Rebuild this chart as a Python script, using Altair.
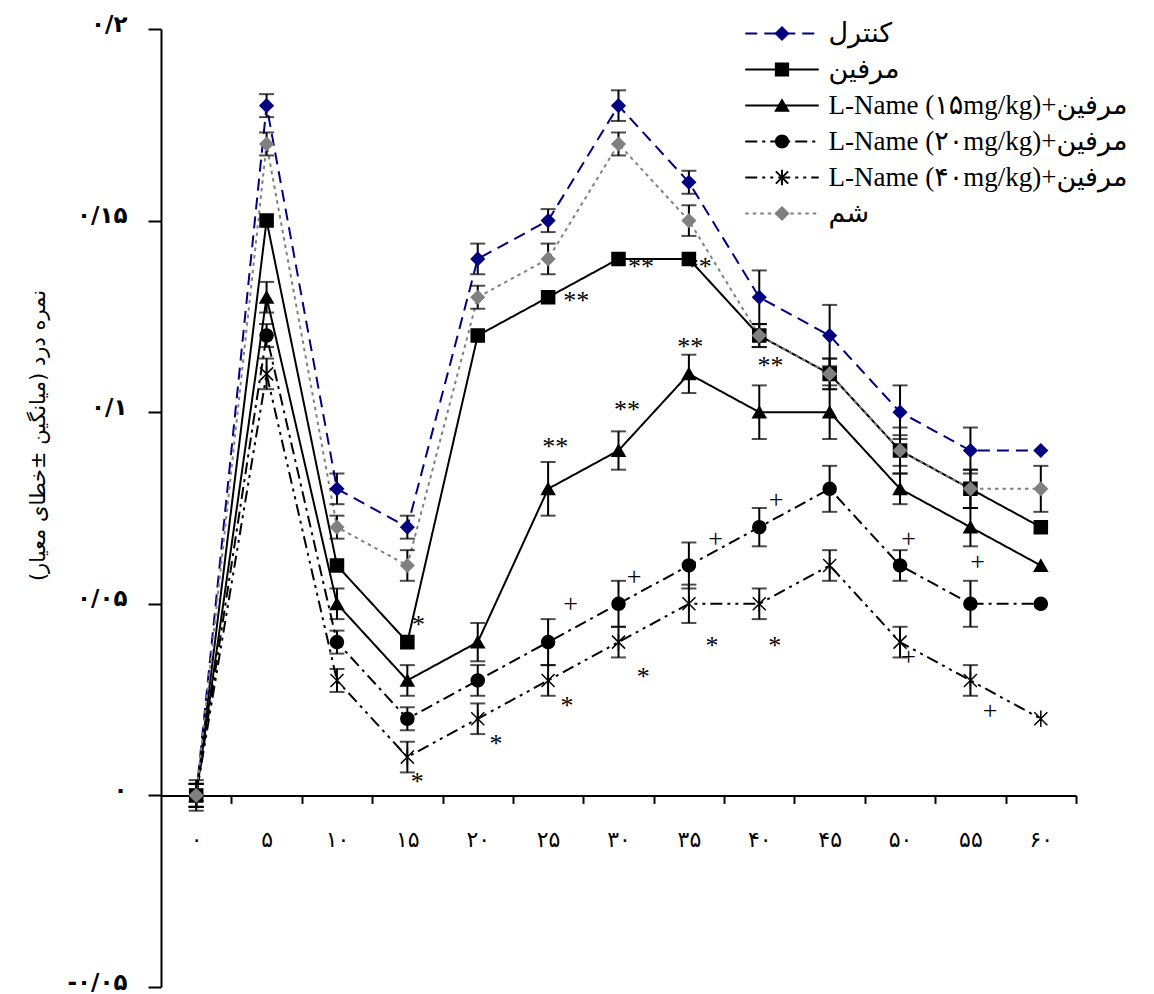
import json
import altair as alt
import pandas as pd

# ---------------- data ----------------
minutes = [0, 5, 10, 15, 20, 25, 30, 35, 40, 45, 50, 55, 60]
x_tick_labels = ["۰", "۵", "۱۰", "۱۵", "۲۰", "۲۵", "۳۰", "۳۵", "۴۰", "۴۵", "۵۰", "۵۵", "۶۰"]
y_tick_values = [-0.05, 0.0, 0.05, 0.1, 0.15, 0.2]
y_tick_labels = ["-۰/۰۵", "۰", "۰/۰۵", "۰/۱", "۰/۱۵", "۰/۲"]
y_title = "\u200fنمره درد (میانگین ±خطای معیار)\u200f"

series_names = [
    "کنترل",
    "مرفین",
    "L-Name (۱۵mg/kg)+مرفین",
    "L-Name (۲۰mg/kg)+مرفین",
    "L-Name (۴۰mg/kg)+مرفین",
    "شم",
]

control = [0, 0.18, 0.08, 0.07, 0.14, 0.15, 0.18, 0.16, 0.13, 0.12, 0.10, 0.09, 0.09]
control_err = [0.003, 0.003, 0.004, 0.003, 0.004, 0.003, 0.004, 0.003, 0.007, 0.008, 0.007, 0.006, 0]
morphine = [0, 0.15, 0.06, 0.04, 0.12, 0.13, 0.14, 0.14, 0.12, 0.11, 0.09, 0.08, 0.07]
morphine_err = [0.003, 0, 0, 0, 0, 0, 0, 0, 0.003, 0.004, 0.004, 0.005, 0]
lname15 = [0, 0.13, 0.05, 0.03, 0.04, 0.08, 0.09, 0.11, 0.10, 0.10, 0.08, 0.07, 0.06]
lname15_err = [0.003, 0.004, 0.004, 0.004, 0.005, 0.007, 0.005, 0.005, 0.007, 0.007, 0.004, 0.005, 0]
lname20 = [0, 0.12, 0.04, 0.02, 0.03, 0.04, 0.05, 0.06, 0.07, 0.08, 0.06, 0.05, 0.05]
lname20_err = [0.003, 0.003, 0.003, 0.003, 0.004, 0.006, 0.006, 0.006, 0.005, 0.006, 0.004, 0.006, 0]
lname40 = [0, 0.11, 0.03, 0.01, 0.02, 0.03, 0.04, 0.05, 0.05, 0.06, 0.04, 0.03, 0.02]
lname40_err = [0.004, 0.004, 0.003, 0.004, 0.004, 0.004, 0.004, 0.005, 0.004, 0.004, 0.004, 0.004, 0]
sham = [0, 0.17, 0.07, 0.06, 0.13, 0.14, 0.17, 0.15, 0.12, 0.11, 0.09, 0.08, 0.08]
sham_err = [0.003, 0.003, 0.003, 0.004, 0.003, 0.004, 0.003, 0.004, 0.003, 0.004, 0.006, 0.005, 0.006]

annot_x = [27.0, 31.6, 35.7, 30.6, 25.5, 35.1, 40.8,
           15.8, 15.7, 21.3, 26.35, 31.75, 36.65, 41.1,
           26.6, 31.1, 36.9, 41.2, 50.6, 50.6, 55.5, 56.4]
annot_y = [0.129, 0.138, 0.138, 0.1005, 0.091, 0.117, 0.112,
           0.0445, 0.0034, 0.0133, 0.0234, 0.031, 0.039, 0.039,
           0.050, 0.057, 0.067, 0.077, 0.067, 0.036, 0.061, 0.022]
annot_text = ["**"] * 7 + ["*"] * 7 + ["+"] * 8

# ---------------- styles ----------------
line_colors = ["#000080", "black", "black", "black", "black", "#808080"]
line_dashes = [[12, 7], [1, 0], [1, 0], [12, 5, 3, 5], [12, 5, 3, 5, 3, 5], [3.5, 4]]
line_widths = [2, 2, 2, 2, 2, 2.8]
marker_colors = ["#000080", "black", "black", "black", "black", "#808080"]
ASTERISK = "M-1,-1L1,1M-1,1L1,-1M0,-1.25L0,1.25"
marker_shapes = ["diamond", "square", "triangle-up", "circle", ASTERISK, "diamond"]
LEGEND_LINE = "M-6,0L6,0"

W, H = 915, 958
HALF = W / 13 / 2
LEG_X, LEG_Y = 607.5, -9
FONT_FA = "DejaVu Sans"
FONT_LEG = "Liberation Serif, DejaVu Sans"

rows = []
all_vals = [control, morphine, lname15, lname20, lname40, sham]
all_errs = [control_err, morphine_err, lname15_err, lname20_err, lname40_err, sham_err]
for name, vals, errs in zip(series_names, all_vals, all_errs):
    for m, v, e in zip(minutes, vals, errs):
        rows.append({"minute": m, "value": v, "err": e, "series": name, "series_m": name})
df = pd.DataFrame(rows)
df_err = df[df["err"] > 0].copy()
df_err["lo"] = df_err["value"] - df_err["err"]
df_err["hi"] = df_err["value"] + df_err["err"]
df_ann = pd.DataFrame({"ax": annot_x, "ay": annot_y, "t": annot_text})

x_label_expr = json.dumps(x_tick_labels, ensure_ascii=False) + "[round(datum.value / 5)]"
y_label_expr = json.dumps(y_tick_labels, ensure_ascii=False) + "[round((datum.value + 0.05) / 0.05)]"

x_scale = alt.Scale(domain=[-2.5, 62.5], nice=False, zero=False)
y_scale = alt.Scale(domain=[-0.05, 0.2], nice=False, zero=False)

x_axis = alt.Axis(
    values=minutes, labelExpr=x_label_expr, title=None, grid=False,
    offset=-0.2 * H, tickOffset=HALF, labelOffset=-HALF,
    domainColor="black", domainWidth=2, tickColor="black", tickWidth=2, tickSize=8,
    labelFont=FONT_FA, labelFontSize=22, labelColor="black", labelPadding=26,
    labelFlush=False, labelOverlap=False, labelBound=False,
)
y_axis = alt.Axis(
    values=y_tick_values, labelExpr=y_label_expr, title=y_title, grid=False,
    titleX=-123, titleY=406, titleAngle=-90, titleAlign="center", titleBaseline="middle",
    titleFont=FONT_FA, titleFontSize=21, titleFontWeight="normal", titleColor="black",
    domainColor="black", domainWidth=2, tickColor="black", tickWidth=2, tickSize=13,
    labelFont=FONT_FA, labelFontSize=23, labelFontWeight="bold", labelColor="black",
    labelPadding=21, labelOffset=-5, labelFlush=False, labelOverlap=False, labelBound=False,
)


def X(field):
    return alt.X(field, type="quantitative", scale=x_scale, axis=x_axis)


def Y(field):
    return alt.Y(field, type="quantitative", scale=y_scale, axis=y_axis)


leg_common = dict(
    orient="none", legendX=LEG_X, legendY=LEG_Y, title=None, padding=0, rowPadding=8,
    labelFont=FONT_LEG, labelFontSize=27, labelColor="black", labelLimit=600,
    symbolSize=150, symbolStrokeWidth=2,
)
leg_lines = alt.Legend(symbolType=LEGEND_LINE, labelOffset=33, **leg_common)
leg_marks = alt.Legend(labelOffset=33, labelOpacity=0, **leg_common)

base = alt.Chart(df)

lines = base.mark_line().encode(
    x=X("minute"), y=Y("value"),
    stroke=alt.Stroke("series:N", scale=alt.Scale(domain=series_names, range=line_colors),
                      legend=leg_lines, sort=series_names),
    strokeDash=alt.StrokeDash("series:N", scale=alt.Scale(domain=series_names, range=line_dashes),
                              legend=leg_lines, sort=series_names),
    strokeWidth=alt.StrokeWidth("series:N", scale=alt.Scale(domain=series_names, range=line_widths),
                                legend=None),
)

errbars = alt.Chart(df_err).mark_errorbar(ticks=True, size=15, thickness=2, color="black").encode(
    x=X("minute"), y=Y("lo"), y2="hi",
)

points = base.mark_point(filled=True, size=170, strokeWidth=1.5, opacity=1).encode(
    x=X("minute"), y=Y("value"),
    fill=alt.Fill("series_m:N", scale=alt.Scale(domain=series_names, range=marker_colors),
                  legend=leg_marks, sort=series_names),
    stroke=alt.Stroke("series_m:N", scale=alt.Scale(domain=series_names, range=marker_colors),
                      legend=leg_marks, sort=series_names),
    shape=alt.Shape("series_m:N", scale=alt.Scale(domain=series_names, range=marker_shapes),
                    legend=leg_marks, sort=series_names),
)

texts = alt.Chart(df_ann).mark_text(
    font="Liberation Serif", fontSize=26, color="black", align="center", baseline="middle"
).encode(x=X("ax"), y=Y("ay"), text="t:N")

chart = alt.layer(lines, errbars, points, texts).resolve_scale(
    stroke="independent", strokeDash="independent", fill="independent", shape="independent",
    strokeWidth="independent",
).properties(
    width=W, height=H,
    autosize=alt.AutoSizeParams(type="none"),
    padding={"left": 153, "top": 21, "right": 70, "bottom": 14},
    background="white",
).configure_view(stroke=None)

chart.save("out.html", embed_options={"renderer": "svg", "actions": False})
